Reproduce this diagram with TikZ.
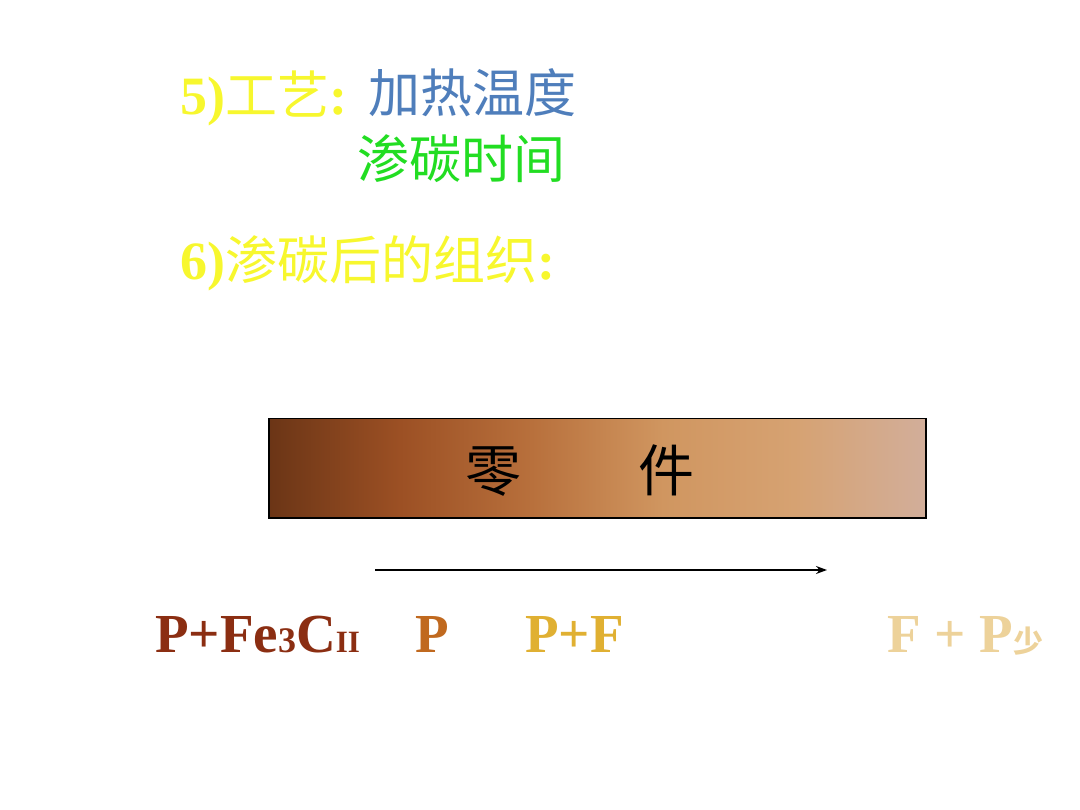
\documentclass[tikz,border=0pt]{standalone}
\usepackage{fontspec}
\setmainfont{Liberation Serif}
\newfontfamily\cjk{Noto Sans CJK SC}
\usetikzlibrary{arrows.meta}
\definecolor{ttlyellow}{HTML}{F7F72E}
\definecolor{ttlblue}{HTML}{4F7EBB}
\definecolor{ttlgreen}{HTML}{22DD22}
\definecolor{labA}{HTML}{8B2E12}
\definecolor{labB}{HTML}{C0691F}
\definecolor{labC}{HTML}{E0B032}
\definecolor{labD}{HTML}{EDD29A}
\definecolor{b0}{HTML}{6B3516}
\definecolor{b1}{HTML}{9C5024}
\definecolor{b2}{HTML}{B8703C}
\definecolor{b3}{HTML}{D09660}
\definecolor{b4}{HTML}{D6A272}
\definecolor{b5}{HTML}{D2AE9A}
\pgfdeclarehorizontalshading{partshade}{100bp}{color(0bp)=(b0); color(25bp)=(b0); color(35bp)=(b1); color(45bp)=(b2); color(55bp)=(b3); color(65bp)=(b4); color(75bp)=(b5); color(100bp)=(b5)}
\begin{document}
\begin{tikzpicture}[x=1pt,y=-1pt,
  lbl/.style={inner sep=0pt,anchor=base west},
  ttl/.style={lbl,font=\fontsize{54}{60}\selectfont\bfseries},
  ctl/.style={lbl,font=\fontsize{52}{60}\selectfont\cjk},
  bot/.style={lbl,font=\fontsize{55}{64}\selectfont\bfseries}]
\useasboundingbox (0,0) rectangle (1080,810);
% titles
\node[ttl,text=ttlyellow] (t5) at (180,115) {5)};
\node[ctl,text=ttlyellow] (t5b) at (t5.base east) {工艺};
\node[ttl,text=ttlyellow] (t5c) at (t5b.base east) {:};
\node[ctl,text=ttlblue] (heat) at (368,113) {加热温度};
\node[ctl,text=ttlgreen] (time) at (357,179) {渗碳时间};
\node[ttl,text=ttlyellow] (t6) at (180,280) {6)};
\node[ctl,text=ttlyellow] (t6b) at (t6.base east) {渗碳后的组织};
\node[ttl,text=ttlyellow] (t6c) at (t6b.base east) {:};
% part
\node[draw=black,line width=1.5pt,shade,shading=partshade,minimum width=657pt,minimum height=99pt,inner sep=0pt,anchor=north west] (part) at (268,418) {};
\node[lbl,font=\fontsize{56}{60}\selectfont\cjk] (c1) at (465,491) {零};
\node[lbl,font=\fontsize{56}{60}\selectfont\cjk] (c2) at (638,491) {件};
% arrow
\coordinate (a1) at (375,570);
\coordinate (a2) at (827,570);
\draw[line width=1.3pt,-{Stealth[length=11pt,width=8pt]}] (a1) -- (a2);
% labels
\node[bot,text=labA] (l1) at (155,652) {P+Fe{\fontsize{36}{40}\selectfont 3}C{\fontsize{31}{40}\selectfont II}};
\node[bot,text=labB] (l2) at (415,652) {P};
\node[bot,text=labC] (l3) at (525,652) {P+F};
\node[bot,text=labD] (l4) at (887,652) {F + P{\fontsize{30}{40}\selectfont\cjk 少}};
\end{tikzpicture}
\end{document}
